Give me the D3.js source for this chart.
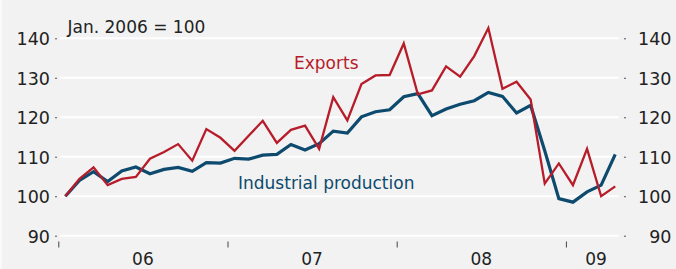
<!DOCTYPE html>
<html>
<head>
<meta charset="utf-8">
<script src="https://cdn.jsdelivr.net/npm/d3@7"></script>
<style>
  html, body { margin: 0; padding: 0; background: #f2f2f2; }
  svg { display: block; }
  text { font-family: "DejaVu Sans", sans-serif; }
</style>
</head>
<body>
<svg id="chart" width="676" height="269"></svg>
<script>
const months = [
  "2006-01","2006-02","2006-03","2006-04","2006-05","2006-06","2006-07","2006-08","2006-09","2006-10","2006-11","2006-12",
  "2007-01","2007-02","2007-03","2007-04","2007-05","2007-06","2007-07","2007-08","2007-09","2007-10","2007-11","2007-12",
  "2008-01","2008-02","2008-03","2008-04","2008-05","2008-06","2008-07","2008-08","2008-09","2008-10","2008-11","2008-12",
  "2009-01","2009-02","2009-03","2009-04"
];
const exportsSeries = [
  100,104.4,107.3,102.8,104.4,104.9,109.5,111.2,113.2,109,
  117,114.8,111.5,115.3,119.1,113.5,116.8,117.9,112,125.1,
  119.2,128.4,130.6,130.7,138.7,125.8,126.8,132.9,130.3,135.5,
  142.6,127.2,129,124.5,103.2,108.3,102.8,112,100,102.5
];
const industrialSeries = [
  100,104,106.2,103.7,106.4,107.4,105.7,106.8,107.3,106.3,
  108.5,108.4,109.6,109.4,110.4,110.6,113.1,111.7,113.3,116.5,
  116,120.1,121.4,121.9,125.2,126,120.4,122.1,123.3,124.2,
  126.3,125.3,121.1,123,111.5,99.4,98.5,101.1,102.8,110.6
];
const yTicks = [90, 100, 110, 120, 130, 140];
const yearLabels = ["06", "07", "08", "09"];
const yearBoundaries = ["2006-01", "2007-01", "2008-01", "2009-01"];

const svg = d3.select("#chart");
const W = 676, H = 269;

svg.append("rect").attr("width", W).attr("height", H).attr("fill", "#f2f2f2");
svg.append("rect").attr("width", 2).attr("height", H).attr("fill", "#fafafa");

const x = d3.scaleLinear().domain([-0.5, months.length - 0.5]).range([58.3, 622.3]);
const y = d3.scaleLinear().domain([90, 140]).range([235.7, 38.3]);

// gridlines
svg.append("g").selectAll("line").data(yTicks).join("line")
  .attr("x1", 60).attr("x2", 619)
  .attr("y1", d => y(d)).attr("y2", d => y(d))
  .attr("stroke", "#ffffff").attr("stroke-width", 2);

// left axis
const leftAxis = d3.axisLeft(y).tickValues(yTicks).tickSize(2).tickPadding(5);
const gL = svg.append("g").attr("transform", "translate(57,0)").call(leftAxis);
gL.select(".domain").remove();
gL.selectAll(".tick line").attr("stroke", "#555");
gL.selectAll(".tick text").attr("font-size", 17.5).attr("fill", "#222")
  .attr("font-family", "DejaVu Sans").attr("dy", "0.36em");

// right axis (labels right-aligned)
const rightAxis = d3.axisRight(y).tickValues(yTicks).tickSize(2).tickPadding(5);
const gR = svg.append("g").attr("transform", "translate(624,0)").call(rightAxis);
gR.select(".domain").remove();
gR.selectAll(".tick line").attr("stroke", "#555");
gR.selectAll(".tick text").attr("font-size", 17.5).attr("fill", "#222")
  .attr("font-family", "DejaVu Sans").attr("dy", "0.36em")
  .attr("text-anchor", "end").attr("x", 47.5);

// bottom axis ticks at year boundaries
const boundaryIdx = yearBoundaries.map(m => months.indexOf(m) - 0.5);
const bottomAxis = d3.axisBottom(x).tickValues(boundaryIdx).tickSize(6).tickFormat("");
const gB = svg.append("g").attr("transform", "translate(0,241.5)").call(bottomAxis);
gB.select(".domain").remove();
gB.selectAll(".tick line").attr("stroke", "#444").attr("stroke-width", 1);

// year labels at centre of each year's months
yearLabels.forEach((lab, k) => {
  const yr = "20" + lab;
  const idx = months.map((m, i) => m.startsWith(yr) ? i : -1).filter(i => i >= 0);
  const mid = (idx[0] + idx[idx.length - 1]) / 2;
  svg.append("text").attr("x", x(mid) + (k === 3 ? 2 : 0)).attr("y", 264.5)
    .attr("text-anchor", "middle").attr("font-size", 17).attr("fill", "#222")
    .text(lab);
});

const line = d3.line().x((d, i) => x(i)).y(d => y(d));

svg.append("path").datum(industrialSeries)
  .attr("d", line).attr("fill", "none")
  .attr("stroke", "#0d4a6e").attr("stroke-width", 3.2).attr("stroke-linejoin", "miter");

svg.append("path").datum(exportsSeries)
  .attr("d", line).attr("fill", "none")
  .attr("stroke", "#b71c2a").attr("stroke-width", 2.3).attr("stroke-linejoin", "miter");

// annotations
svg.append("text").attr("x", 67.5).attr("y", 32.7).attr("font-size", 17)
  .attr("fill", "#222").text("Jan. 2006 = 100");
svg.append("text").attr("x", 294).attr("y", 69).attr("font-size", 17)
  .attr("fill", "#b71c2a").text("Exports");
svg.append("text").attr("x", 238).attr("y", 189).attr("font-size", 17)
  .attr("fill", "#0d4a6e").text("Industrial production");
</script>
</body>
</html>
